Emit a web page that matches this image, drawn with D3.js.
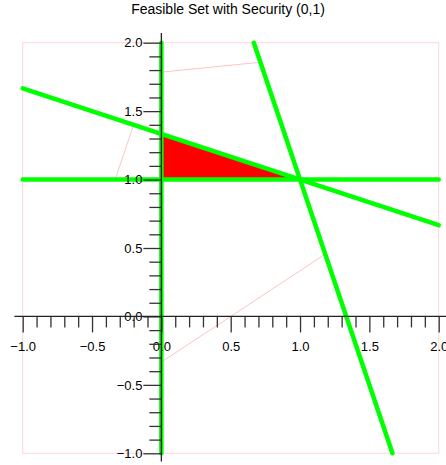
<!DOCTYPE html>
<html>
<head>
<meta charset="utf-8">
<script src="https://cdn.jsdelivr.net/npm/d3@7"></script>
<style>
  body { margin: 0; background: #fff; }
  text { font-family: "Liberation Sans", Arial, sans-serif; }
</style>
</head>
<body>
<script>
var w = 446;
var h = 465;

// tick values and labels
var xMajor = [-1, -0.5, 0, 0.5, 1, 1.5, 2];
var xLabels = ["\u22121.0", "\u22120.5", "0.0", "0.5", "1.0", "1.5", "2.0"];
var yMajor = [-1, -0.5, 0, 0.5, 1, 1.5, 2];
var yLabels = ["\u22121.0", "\u22120.5", "0.0", "0.5", "1.0", "1.5", "2.0"];

// constraint lines (data coords)
var constraintLines = [
    [[-1, 1], [2, 1]],
    [[0, -1], [0, 2]],
    [[-1, 5 / 3], [2, 2 / 3]],
    [[2 / 3, 2], [5 / 3, -1]]
];

// feasible set polygon
var feasibleSet = [[0, 1], [0, 4 / 3], [1, 1]];

// faint plot frame + stray pink segments
var frame = [[-1, -1], [2, -1], [2, 2], [-1, 2], [-1, -1]];
var straySegments = [
    [[0, 1.785], [0.713, 1.857]],
    [[-1 / 3, 1], [-0.2, 1.4]],
    [[0, -1 / 3], [1.182, 0.455]]
];

var svg = d3.select("body")
    .append("svg")
    .attr("width", w)
    .attr("height", h);

var xScale = d3.scaleLinear()
    .domain([-1, 2])
    .range([22.7, 438.7]);

var yScale = d3.scaleLinear()
    .domain([-1, 2])
    .range([453.3, 42.7]);

var line = d3.line()
    .x(d => xScale(d[0]))
    .y(d => yScale(d[1]));

//frame
svg.append("path")
    .datum(frame)
    .attr("d", line)
    .attr("fill", "none")
    .attr("stroke", "#ffd6d6")
    .attr("stroke-width", 1);

//stray pink
svg.selectAll(".stray")
    .data(straySegments)
    .enter()
    .append("path")
    .attr("class", "stray")
    .attr("d", line)
    .attr("fill", "none")
    .attr("stroke", "#ffb4b4")
    .attr("stroke-width", 0.8);

//feasible region
svg.append("path")
    .datum(feasibleSet)
    .attr("d", line.curve(d3.curveLinearClosed))
    .attr("fill", "#ff0000");
line.curve(d3.curveLinear);

//green lines
svg.selectAll(".constraint")
    .data(constraintLines)
    .enter()
    .append("path")
    .attr("class", "constraint")
    .attr("d", line)
    .attr("fill", "none")
    .attr("stroke", "#00ff00")
    .attr("stroke-width", 4.5)
    .attr("stroke-linecap", "round");

//axes
var minor = d3.range(-10, 21).map(i => i / 10).filter(v => Math.abs(v * 2 - Math.round(v * 2)) > 1e-6);
var xAt = yScale(0);
var yAt = xScale(0);

svg.append("g")
    .attr("class", "axis")
    .attr("transform", "translate(0," + xAt + ")")
    .call(d3.axisBottom(xScale).tickValues(minor).tickSize(11).tickFormat(""));
svg.append("g")
    .attr("class", "axis")
    .attr("transform", "translate(0," + xAt + ")")
    .call(d3.axisBottom(xScale).tickValues(xMajor).tickSize(16).tickPadding(9)
        .tickFormat((d, i) => xLabels[i]));

svg.append("g")
    .attr("class", "axis")
    .attr("transform", "translate(" + yAt + ",0)")
    .call(d3.axisLeft(yScale).tickValues(minor).tickSize(12).tickFormat(""));
svg.append("g")
    .attr("class", "axis")
    .attr("transform", "translate(" + yAt + ",0)")
    .call(d3.axisLeft(yScale).tickValues(yMajor).tickSize(18).tickPadding(1)
        .tickFormat((d, i) => yLabels[i]));

svg.selectAll(".axis .domain").remove();

//axis lines, a bit past the data range
svg.append("line")
    .attr("x1", xScale(-1.06)).attr("x2", xScale(2.06))
    .attr("y1", xAt).attr("y2", xAt)
    .attr("stroke", "#222")
    .attr("stroke-width", 1.3);
svg.append("line")
    .attr("x1", yAt).attr("x2", yAt)
    .attr("y1", yScale(-1.06)).attr("y2", yScale(2.07))
    .attr("stroke", "#222")
    .attr("stroke-width", 1.3);

svg.selectAll(".tick line")
    .attr("stroke", "#333")
    .attr("stroke-width", 1.3);
svg.selectAll(".tick text")
    .attr("fill", "#000")
    .style("font-size", "13px")
    .style("font-family", "'Liberation Sans', Arial, sans-serif");

//title
svg.append("text")
    .text("Feasible Set with Security (0,1)")
    .attr("x", 228)
    .attr("y", 14)
    .attr("text-anchor", "middle")
    .style("font-size", "14px");
</script>
</body>
</html>
